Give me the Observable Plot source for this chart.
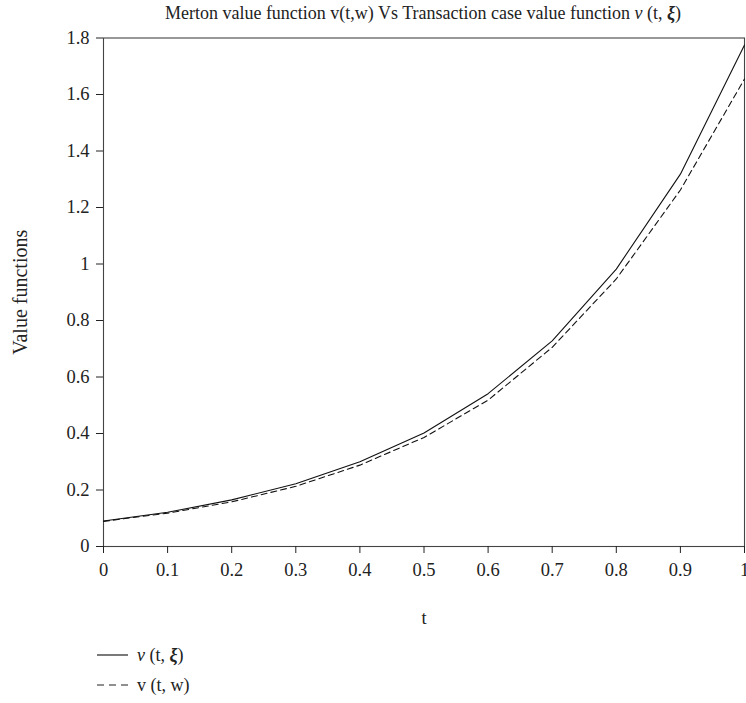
<!DOCTYPE html>
<html>
<head>
<meta charset="utf-8">
<script src="https://cdn.jsdelivr.net/npm/d3@7"></script>
<script src="https://cdn.jsdelivr.net/npm/@observablehq/plot@0.6"></script>
<style>
  body { margin: 0; background: #fff; font-family: "Liberation Serif", "DejaVu Serif", serif; color: #222; }
  #wrap { position: relative; width: 746px; height: 703px; overflow: hidden; }
  #title { position: absolute; top: 3px; left: 90px; width: 666px; text-align: center; font-size: 18px; white-space: nowrap; }
  #chart { position: absolute; top: 0; left: 0; }
  #legend { position: absolute; left: 96px; top: 640px; font-size: 18px; }
  .row { display: flex; align-items: center; height: 30px; }
  .row svg { margin-right: 8px; }
  svg text { font-family: "Liberation Serif", "DejaVu Serif", serif; }
</style>
</head>
<body>
<div id="wrap">
  <div id="title">Merton value function v(t,w) Vs Transaction case value function <i>ν</i> (t, <b><i>ξ</i></b>)</div>
  <div id="chart"></div>
  <div id="legend">
    <div class="row"><svg width="33" height="10"><line x1="1" x2="32" y1="5" y2="5" stroke="#222" stroke-width="1.2"/></svg><span><i>ν</i> (t, <b><i>ξ</i></b>)</span></div>
    <div class="row"><svg width="33" height="10"><line x1="1" x2="32" y1="5" y2="5" stroke="#222" stroke-width="1.2" stroke-dasharray="7,5"/></svg><span>v (t, w)</span></div>
  </div>
</div>
<script>
const tValues = [0, 0.1, 0.2, 0.3, 0.4, 0.5, 0.6, 0.7, 0.8, 0.9, 1.0];
const transactionValues = [0.090, 0.121, 0.165, 0.222, 0.300, 0.402, 0.541, 0.728, 0.982, 1.318, 1.775];
const mertonValues = [0.089, 0.118, 0.158, 0.213, 0.288, 0.386, 0.518, 0.705, 0.947, 1.262, 1.655];
const xTicks = [0, 0.1, 0.2, 0.3, 0.4, 0.5, 0.6, 0.7, 0.8, 0.9, 1];
const yTicks = [0, 0.2, 0.4, 0.6, 0.8, 1, 1.2, 1.4, 1.6, 1.8];

const data = [];
tValues.forEach((t, i) => {
  data.push({t, v: transactionValues[i], series: "transaction"});
  data.push({t, v: mertonValues[i], series: "merton"});
});

const chart = Plot.plot({
  width: 746,
  height: 640,
  marginLeft: 103,
  marginRight: 2,
  marginTop: 37.5,
  marginBottom: 94,
  style: { fontSize: "18.5px", fontFamily: "'Liberation Serif', 'DejaVu Serif', serif", color: "#222", background: "transparent", overflow: "visible" },
  x: { domain: [0, 1] },
  y: { domain: [0, 1.8] },
  marks: [
    Plot.frame({ stroke: "#444", strokeWidth: 1.1 }),
    Plot.axisX({ ticks: xTicks, tickSize: 7, tickPadding: 9, tickFormat: d => String(d), label: null }),
    Plot.axisX({ ticks: [], tickSize: 0, label: "t", labelAnchor: "center", labelOffset: 77, labelArrow: false }),
    Plot.axisY({ ticks: yTicks, tickSize: 7, tickPadding: 7, tickFormat: d => String(d), label: null }),
    Plot.axisY({ ticks: [], tickSize: 0, label: "Value functions", labelAnchor: "center", labelOffset: 91, labelArrow: false, fontSize: "20px" }),
    Plot.line(data.filter(d => d.series === "transaction"), { x: "t", y: "v", stroke: "#111", strokeWidth: 1.1 }),
    Plot.line(data.filter(d => d.series === "merton"), { x: "t", y: "v", stroke: "#111", strokeWidth: 1.1, strokeDasharray: "6,4" })
  ]
});
document.getElementById("chart").appendChild(chart);
</script>
</body>
</html>
